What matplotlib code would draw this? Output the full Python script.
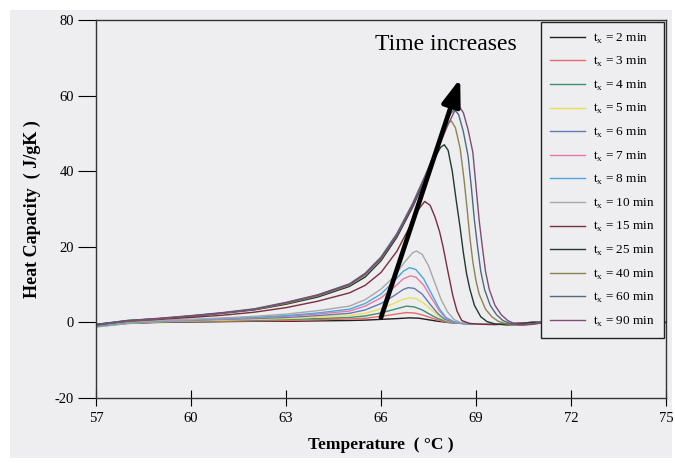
import matplotlib.pyplot as plt
from matplotlib.patches import Rectangle

plt.rcParams['font.family'] = ['Liberation Serif', 'DejaVu Serif']
plt.rcParams['axes.unicode_minus'] = False

# --- Data (Temperature in C, Heat capacity in J/gK) ---
tail_T = [68.6, 69.4, 70.2, 70.8, 75]
tail_cp = [-0.3, -0.5, -0.3, 0, 0]

temps_2 = [57, 58, 59, 60, 61, 62, 63, 64, 65, 65.5, 66, 66.5, 66.9, 67.2, 67.5, 67.8, 68.1, 68.4] + tail_T
cp_2 = [-0.9, -0.2, 0.0, 0.1, 0.2, 0.3, 0.3, 0.4, 0.5, 0.6, 0.8, 1.0, 1.2, 1.1, 0.7, 0.3, 0.0, -0.2] + tail_cp

temps_3 = [57, 58, 59, 60, 61, 62, 63, 64, 65, 65.5, 66, 66.4, 66.8, 67.05, 67.3, 67.55, 67.8, 68.05, 68.3] + tail_T
cp_3 = [-1.0, -0.2, 0.1, 0.2, 0.3, 0.4, 0.5, 0.7, 0.9, 1.1, 1.6, 2.1, 2.6, 2.5, 2.0, 1.3, 0.6, 0.1, -0.1] + tail_cp

temps_4 = [57, 58, 59, 60, 61, 62, 63, 64, 65, 65.5, 66, 66.4, 66.8, 67.05, 67.3, 67.55, 67.8, 68.05, 68.3] + tail_T
cp_4 = [-1.2, -0.3, 0.1, 0.3, 0.5, 0.6, 0.8, 1.0, 1.3, 1.7, 2.5, 3.4, 4.3, 4.1, 3.3, 2.1, 1.0, 0.3, 0.0] + tail_cp

temps_5 = [57, 58, 59, 60, 61, 62, 63, 64, 65, 65.5, 66, 66.4, 66.7, 66.9, 67.1, 67.35, 67.6, 67.85, 68.05, 68.3] + tail_T
cp_5 = [-1.1, -0.2, 0.2, 0.4, 0.6, 0.8, 1.0, 1.4, 1.8, 2.4, 3.6, 5.0, 6.1, 6.5, 6.3, 5.1, 3.3, 1.5, 0.5, 0.0] + tail_cp

temps_6 = [57, 58, 59, 60, 61, 62, 63, 64, 65, 65.5, 66, 66.4, 66.7, 66.86, 67.05, 67.3, 67.55, 67.8, 68.0, 68.25] + tail_T
cp_6 = [-1.0, -0.1, 0.3, 0.5, 0.8, 1.0, 1.3, 1.8, 2.4, 3.3, 5.0, 7.0, 8.7, 9.2, 9.0, 7.5, 4.8, 2.3, 0.9, 0.1] + tail_cp

temps_7 = [57, 58, 59, 60, 61, 62, 63, 64, 65, 65.5, 66, 66.4, 66.7, 66.92, 67.1, 67.35, 67.6, 67.85, 68.05, 68.3] + tail_T
cp_7 = [-0.9, 0.0, 0.3, 0.6, 0.9, 1.2, 1.6, 2.2, 3.0, 4.3, 6.5, 9.2, 11.5, 12.3, 12.0, 9.8, 6.3, 3.0, 1.1, 0.1] + tail_cp

temps_8 = [57, 58, 59, 60, 61, 62, 63, 64, 65, 65.5, 66, 66.4, 66.7, 66.9, 67.1, 67.35, 67.6, 67.85, 68.05, 68.3] + tail_T
cp_8 = [-1.0, 0.0, 0.4, 0.7, 1.0, 1.3, 1.8, 2.5, 3.5, 5.0, 7.5, 10.8, 13.5, 14.5, 14.0, 11.5, 7.5, 3.5, 1.3, 0.2] + tail_cp

temps_10 = [57, 58, 59, 60, 61, 62, 63, 64, 65, 65.5, 66, 66.4, 66.75, 67.0, 67.12, 67.3, 67.5, 67.7, 67.9, 68.1, 68.3, 68.5, 69.0, 69.6, 70.2, 70.8, 75]
cp_10 = [-0.8, 0.1, 0.5, 0.8, 1.2, 1.6, 2.2, 3.1, 4.3, 6.0, 8.8, 12.0, 16.0, 18.4, 18.9, 18.0, 15.0, 10.5, 6.0, 2.8, 0.8, 0.0, -0.4, -0.5, -0.2, 0, 0]

temps_15 = [57, 58, 59, 60, 61, 62, 63, 64, 65, 65.5, 66, 66.5, 66.9, 67.15, 67.38, 67.55, 67.7, 67.85, 67.96, 68.1, 68.27, 68.4, 68.55, 68.8, 69.2, 69.6, 70.2, 70.8, 75]
cp_15 = [-0.6, 0.3, 0.8, 1.3, 1.9, 2.7, 3.9, 5.6, 7.8, 9.8, 13.2, 18.8, 25.2, 29.5, 32.0, 31.0, 28.0, 24.0, 20.0, 14.0, 7.0, 3.0, 0.5, -0.3, -0.5, -0.6, -0.3, 0, 0]

temps_25 = [57, 58, 59, 60, 61, 62, 63, 64, 65, 65.5, 66, 66.5, 67, 67.4, 67.7, 67.88, 68.0, 68.12, 68.25, 68.38, 68.5, 68.6, 68.7, 68.8, 68.95, 69.15, 69.35, 69.6, 70.0, 70.4, 70.8, 75]
cp_25 = [-0.5, 0.5, 1.0, 1.6, 2.4, 3.3, 4.8, 6.7, 9.5, 12.0, 16.3, 22.5, 30.5, 38.0, 43.5, 46.3, 47.0, 45.5, 40.0, 32.0, 25.0, 18.5, 13.0, 9.0, 4.5, 1.5, 0.2, -0.4, -0.7, -0.5, 0, 0]

temps_40 = [57, 58, 59, 60, 61, 62, 63, 64, 65, 65.5, 66, 66.5, 67, 67.4, 67.75, 68.0, 68.12, 68.22, 68.35, 68.5, 68.62, 68.72, 68.8, 68.9, 69.0, 69.1, 69.3, 69.5, 69.7, 70.0, 70.3, 70.7, 71.1, 75]
cp_40 = [-0.7, 0.4, 1.0, 1.7, 2.5, 3.4, 5.0, 7.0, 9.8, 12.5, 16.8, 23.0, 31.0, 38.5, 46.0, 51.0, 52.8, 53.3, 51.5, 46.0, 38.0, 30.0, 23.0, 16.0, 11.0, 7.5, 3.5, 1.5, 0.3, -0.5, -0.7, -0.4, 0, 0]

temps_60 = [57, 58, 59, 60, 61, 62, 63, 64, 65, 65.5, 66, 66.5, 67, 67.4, 67.8, 68.05, 68.2, 68.32, 68.45, 68.6, 68.75, 68.85, 68.95, 69.05, 69.15, 69.27, 69.45, 69.65, 69.85, 70.1, 70.4, 70.8, 71.2, 75]
cp_60 = [-0.6, 0.5, 1.1, 1.8, 2.6, 3.6, 5.3, 7.3, 10.2, 13.0, 17.3, 23.5, 31.5, 39.0, 47.0, 52.5, 55.3, 56.3, 55.0, 50.5, 44.0, 36.0, 27.0, 20.0, 13.5, 8.7, 4.5, 2.0, 0.5, -0.4, -0.7, -0.4, 0, 0]

temps_90 = [57, 58, 59, 60, 61, 62, 63, 64, 65, 65.5, 66, 66.5, 67, 67.4, 67.8, 68.1, 68.3, 68.45, 68.6, 68.75, 68.9, 69.0, 69.1, 69.2, 69.3, 69.42, 69.6, 69.8, 70.0, 70.2, 70.5, 70.8, 71.2, 75]
cp_90 = [-0.8, 0.4, 1.0, 1.7, 2.5, 3.5, 5.2, 7.2, 10.0, 12.8, 17.0, 23.0, 31.0, 38.5, 46.0, 52.0, 55.5, 57.3, 55.5, 51.0, 45.0, 36.0, 27.0, 20.0, 13.5, 8.7, 4.5, 2.0, 0.5, -0.3, -0.7, -0.5, 0, 0]

minutes = [2, 3, 4, 5, 6, 7, 8, 10, 15, 25, 40, 60, 90]
all_temps = [temps_2, temps_3, temps_4, temps_5, temps_6, temps_7, temps_8,
             temps_10, temps_15, temps_25, temps_40, temps_60, temps_90]
all_cp = [cp_2, cp_3, cp_4, cp_5, cp_6, cp_7, cp_8,
          cp_10, cp_15, cp_25, cp_40, cp_60, cp_90]
colors = ['#1e1e1e', '#e86a6a', '#3f8f70', '#e6e05a', '#6677b5', '#e878a8',
          '#4aa6dc', '#a8a8a8', '#7a2e40', '#1f3a2c', '#8c8450', '#4d6a80', '#7e4c74']

bg = '#eeeef0'

# --- Plotting ---
fig = plt.figure(figsize=(6.75, 4.63), dpi=100, facecolor='white')
fig.patches.append(Rectangle((10 / 675, 5 / 463), 662 / 675, 448 / 463,
                             transform=fig.transFigure, facecolor=bg,
                             edgecolor='none', zorder=-10))
ax = fig.add_axes([96 / 675, 65 / 463, 570 / 675, 378 / 463])
ax.set_facecolor(bg)

for m, T, cp, c in zip(minutes, all_temps, all_cp, colors):
    ax.plot(T, cp, color=c, lw=1.0, label='t$_\\mathregular{x}$ = %d min' % m)

ax.set_xlim(57, 75)
ax.set_ylim(-20, 80)
ax.set_xticks([57, 60, 63, 66, 69, 72, 75])
ax.set_yticks([-20, 0, 20, 40, 60, 80])
ax.tick_params(axis='x', direction='inout', length=12, width=0.8, labelsize=10.5, pad=4)
ax.tick_params(axis='y', direction='out', length=13, width=0.8, labelsize=10.5, pad=3)
for s in ax.spines.values():
    s.set_color('#333333')
    s.set_linewidth(1.0)

ax.set_xlabel('Temperature  ( °C )', fontsize=12.5, fontweight='bold', labelpad=9)
ax.set_ylabel('Heat Capacity  ( J/gK )', fontsize=13, fontweight='bold', labelpad=10)

leg = ax.legend(loc='upper right', bbox_to_anchor=(0.996, 0.994), fontsize=9.5,
                frameon=True, fancybox=False, edgecolor='#222222', facecolor=bg,
                framealpha=1, handlelength=2.6, labelspacing=0.72,
                borderpad=0.7, handletextpad=0.6, borderaxespad=0)
leg.get_frame().set_linewidth(1.0)

# arrow showing the trend
ax.annotate('', xy=(68.5, 64.5), xytext=(66.0, 1.3),
            arrowprops=dict(arrowstyle='-|>,head_length=1.0,head_width=0.35',
                            color='black', lw=3.4, mutation_scale=16,
                            shrinkA=0, shrinkB=0), zorder=5)
ax.text(68.05, 73.5, 'Time increases', fontsize=17, ha='center', va='center')

fig.savefig('out.png', dpi=100, facecolor=fig.get_facecolor())
